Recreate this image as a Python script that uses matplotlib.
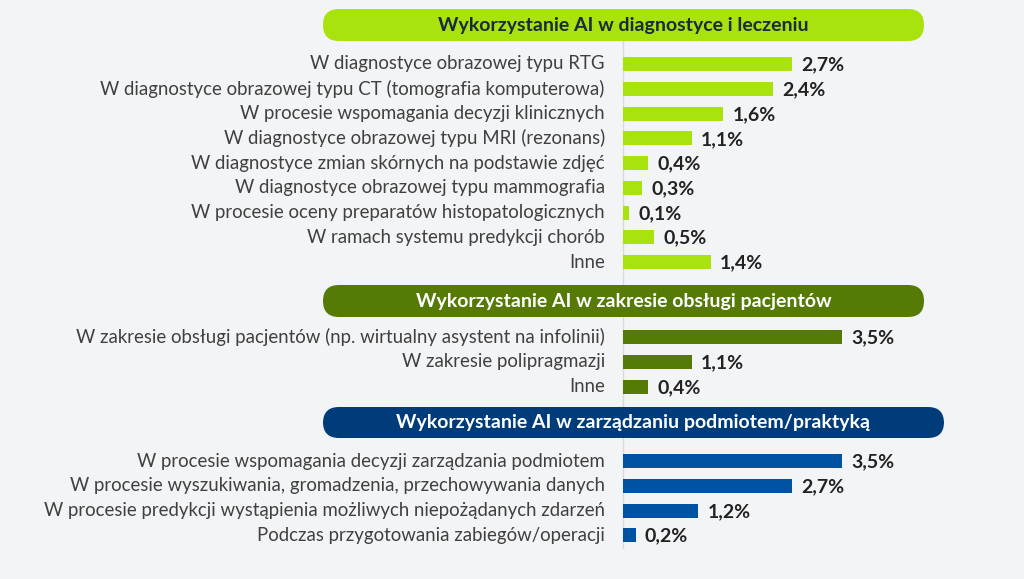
import matplotlib.pyplot as plt
from matplotlib.patches import FancyBboxPatch
import matplotlib.transforms as mtransforms

# data
diag_labels = [
    "W diagnostyce obrazowej typu RTG",
    "W diagnostyce obrazowej typu CT (tomografia komputerowa)",
    "W procesie wspomagania decyzji klinicznych",
    "W diagnostyce obrazowej typu MRI (rezonans)",
    "W diagnostyce zmian skórnych na podstawie zdjęć",
    "W diagnostyce obrazowej typu mammografia",
    "W procesie oceny preparatów histopatologicznych",
    "W ramach systemu predykcji chorób",
    "Inne",
]
diag_values = [2.7, 2.4, 1.6, 1.1, 0.4, 0.3, 0.1, 0.5, 1.4]

patient_labels = [
    "W zakresie obsługi pacjentów (np. wirtualny asystent na infolinii)",
    "W zakresie polipragmazji",
    "Inne",
]
patient_values = [3.5, 1.1, 0.4]

mgmt_labels = [
    "W procesie wspomagania decyzji zarządzania podmiotem",
    "W procesie wyszukiwania, gromadzenia, przechowywania danych",
    "W procesie predykcji wystąpienia możliwych niepożądanych zdarzeń",
    "Podczas przygotowania zabiegów/operacji",
]
mgmt_values = [3.5, 2.7, 1.2, 0.2]

section_titles = [
    "Wykorzystanie AI w diagnostyce i leczeniu",
    "Wykorzystanie AI w zakresie obsługi pacjentów",
    "Wykorzystanie AI w zarządzaniu podmiotem/praktyką",
]

W, H = 1024, 579
BG = "#f3f4f6"
X0 = 623          # pixel where 0% sits
PX_PER_PCT = 62.6
ROW = 24.75

plt.rcParams['font.family'] = ['Lato', 'DejaVu Sans']

fig = plt.figure(figsize=(W / 100, H / 100), dpi=100, facecolor=BG)
ax = fig.add_axes([0, 0, 1, 1])
ax.set_facecolor(BG)
ax.set_xlim(-X0 / PX_PER_PCT, (W - X0) / PX_PER_PCT)
ax.set_ylim(H, 0)
ax.axis('off')

# pixel transform (top-left origin) for header boxes
px = mtransforms.Affine2D().scale(1, -1).translate(0, H)

# vertical axis line
ax.plot([0, 0], [41, 548], color="#d9d9d9", lw=1, zorder=1)

sections = [
    # title, labels, values, bar colour, header colour, text colour, header box, first row y
    (section_titles[0], diag_labels, diag_values, "#a8e30e", "#a8e30e", "#1c2b39", (323, 9, 924, 41), 64),
    (section_titles[1], patient_labels, patient_values, "#557a06", "#557a06", "white", (323, 285, 924, 317), 337),
    (section_titles[2], mgmt_labels, mgmt_values, "#0052a3", "#003b7a", "white", (323, 407, 944, 438), 461),
]

for title, labels, values, bar_col, head_col, head_txt, box, y_first in sections:
    x1, y1, x2, y2 = box
    patch = FancyBboxPatch((x1, y1), x2 - x1, y2 - y1,
                           boxstyle="round,pad=0,rounding_size=16",
                           transform=px, facecolor=head_col, edgecolor="none", zorder=2)
    fig.patches.append(patch)
    fig.text((x1 + x2) / 2 / W, 1 - (y1 + y2) / 2 / H, title, ha='center', va='center',
             fontsize=14, fontweight='bold', color=head_txt, zorder=3)

    ys = [y_first + i * ROW for i in range(len(values))]
    ax.barh(ys, values, height=14, color=bar_col, zorder=2)
    for y, lab, v in zip(ys, labels, values):
        ax.text(-0.29, y, lab, ha='right', va='center', fontsize=13.4, color="#404040")
        ax.text(v + 0.15, y + 1, f"{v:.1f}%".replace('.', ','), ha='left', va='center',
                fontsize=14, fontweight='bold', color="#222222")

fig.savefig("out.png", dpi=100, facecolor=BG)
